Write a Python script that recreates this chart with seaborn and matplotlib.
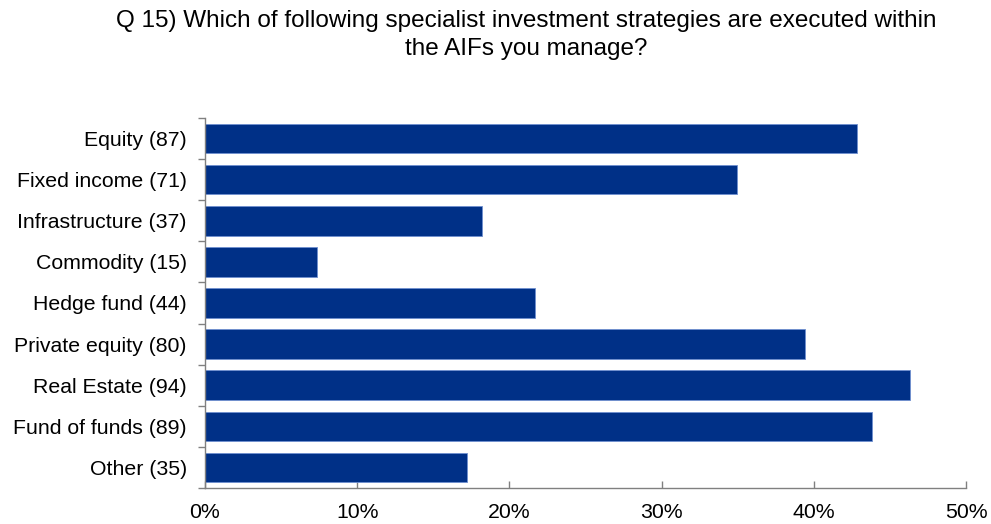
import matplotlib
matplotlib.use("Agg")
import matplotlib.pyplot as plt
import seaborn as sns
import pandas as pd
import numpy as np
from matplotlib.ticker import FixedLocator, PercentFormatter

categories = ["Equity (87)", "Fixed income (71)", "Infrastructure (37)", "Commodity (15)",
              "Hedge fund (44)", "Private equity (80)", "Real Estate (94)",
              "Fund of funds (89)", "Other (35)"]
shares = [42.86, 34.98, 18.23, 7.39, 21.67, 39.41, 46.31, 43.84, 17.24]
x_ticks = [0, 10, 20, 30, 40, 50]

sns.set_theme(style="white")
plt.rcParams["font.family"] = ["Liberation Sans", "DejaVu Sans"]
plt.rcParams["text.color"] = "black"

df = pd.DataFrame({"category": categories, "share": shares})

fig = plt.figure(figsize=(9.91, 5.24), dpi=100)
ax = fig.add_axes([205 / 991, 1 - 488 / 524, (966 - 205) / 991, (488 - 118) / 524])

sns.barplot(data=df, x="share", y="category", orient="h", color="#003087",
            saturation=1, width=0.72, edgecolor="#6f8fd0", linewidth=0.6, ax=ax)

ax.set_xlim(0, 50)
ax.set_ylim(len(categories) - 0.5, -0.5)
ax.set_xticks(x_ticks)
ax.xaxis.set_major_formatter(PercentFormatter(decimals=0))
ax.set_xlabel("")
ax.set_ylabel("")

for side in ["top", "right"]:
    ax.spines[side].set_visible(False)
for side in ["left", "bottom"]:
    ax.spines[side].set_color("#808080")
    ax.spines[side].set_linewidth(1.0)

ax.tick_params(axis="x", direction="in", length=5, width=1, color="#808080",
               labelsize=15.3, pad=11, bottom=True)
ax.tick_params(axis="y", which="major", length=0, labelsize=15.3, pad=13)
ax.yaxis.set_minor_locator(FixedLocator(np.arange(-0.5, len(categories), 1.0)))
ax.tick_params(axis="y", which="minor", direction="out", length=5, width=1,
               color="#808080", left=True)
for lbl in ax.get_xticklabels() + ax.get_yticklabels():
    lbl.set_color("black")

fig.suptitle("Q 15) Which of following specialist investment strategies are executed within\nthe AIFs you manage?",
             x=0.531, y=0.98, fontsize=17.5, linespacing=1.3, va="top", color="black")

fig.savefig("out.png", dpi=100, facecolor="white")
